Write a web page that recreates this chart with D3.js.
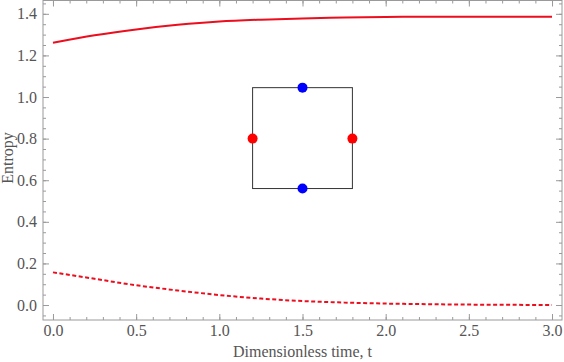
<!DOCTYPE html>
<html>
<head>
<meta charset="utf-8">
<script src="https://cdn.jsdelivr.net/npm/d3@7"></script>
<style>
  body { margin: 0; background: #fff; }
</style>
</head>
<body>
<script>
// time values and the two entropy curves
var times = [0, 0.25, 0.5, 0.75, 1.0, 1.25, 1.5, 1.75, 2.0, 2.25, 2.5, 2.75, 3.0];
var entropySolid = [1.261, 1.297, 1.325, 1.347, 1.363, 1.372, 1.378, 1.382, 1.385, 1.386, 1.386, 1.386, 1.386];
var entropyDashed = [0.157, 0.126, 0.095, 0.070, 0.048, 0.031, 0.019, 0.012, 0.007, 0.004, 0.002, 0.001, 0.000];

// inset square (data coords) and its dots
var squareX = [1.2, 1.8];
var squareY = [0.56, 1.045];
var blueDots = [[1.5, 1.045], [1.5, 0.56]];
var redDots = [[1.2, 0.80], [1.8, 0.80]];

// ticks
var xTicks = [0, 0.5, 1.0, 1.5, 2.0, 2.5, 3.0];
var yTicks = [0, 0.2, 0.4, 0.6, 0.8, 1.0, 1.2, 1.4];

var width = 564;
var height = 362;
var plotLeft = 43, plotRight = 562, plotTop = 0.5, plotBottom = 320;
var serif = "'Liberation Serif', 'Times New Roman', 'DejaVu Serif', serif";

var svg = d3.select("body")
  .append("svg")
  .attr("width", width)
  .attr("height", height);

var x = d3.scaleLinear().domain([-0.06, 3.06]).range([plotLeft, plotRight]);
var y = d3.scaleLinear().domain([-0.072, 1.464]).range([plotBottom, plotTop]);

var frameColor = "#9a9a9a";
var labelColor = "#555";

// minor ticks
var xMinor = d3.range(0, 31).map(function (i) { return i / 10; });
var yMinor = d3.range(-1, 30).map(function (i) { return i / 20; });

function styleAxis(g) {
  g.attr("font-family", serif).attr("font-size", 16);
  g.select(".domain").remove();
  g.selectAll("line").attr("stroke", frameColor);
  g.selectAll("text").attr("fill", labelColor);
}

// bottom
svg.append("g").attr("transform", "translate(0," + plotBottom + ")")
  .call(d3.axisBottom(x).tickValues(xMinor).tickSize(-3).tickFormat(""))
  .call(styleAxis);
svg.append("g").attr("transform", "translate(0," + plotBottom + ")")
  .call(d3.axisBottom(x).tickValues(xTicks).tickSize(-6).tickPadding(5).tickFormat(d3.format(".1f")))
  .call(styleAxis);
// top
svg.append("g").attr("transform", "translate(0," + plotTop + ")")
  .call(d3.axisTop(x).tickValues(xMinor).tickSize(-3).tickFormat(""))
  .call(styleAxis);
svg.append("g").attr("transform", "translate(0," + plotTop + ")")
  .call(d3.axisTop(x).tickValues(xTicks).tickSize(-6).tickFormat(""))
  .call(styleAxis);
// left
svg.append("g").attr("transform", "translate(" + plotLeft + ",0)")
  .call(d3.axisLeft(y).tickValues(yMinor).tickSize(-3).tickFormat(""))
  .call(styleAxis);
svg.append("g").attr("transform", "translate(" + plotLeft + ",0)")
  .call(d3.axisLeft(y).tickValues(yTicks).tickSize(-6).tickPadding(6).tickFormat(d3.format(".1f")))
  .call(styleAxis);
// right
svg.append("g").attr("transform", "translate(" + plotRight + ",0)")
  .call(d3.axisRight(y).tickValues(yMinor).tickSize(-3).tickFormat(""))
  .call(styleAxis);
svg.append("g").attr("transform", "translate(" + plotRight + ",0)")
  .call(d3.axisRight(y).tickValues(yTicks).tickSize(-6).tickFormat(""))
  .call(styleAxis);

// frame
svg.append("rect")
  .attr("x", plotLeft)
  .attr("y", plotTop)
  .attr("width", plotRight - plotLeft)
  .attr("height", plotBottom - plotTop)
  .attr("fill", "none")
  .attr("stroke", frameColor)
  .attr("stroke-width", 1);

// curves
var line = d3.line()
  .x(function (d) { return x(d[0]); })
  .y(function (d) { return y(d[1]); })
  .curve(d3.curveMonotoneX);

svg.append("path")
  .datum(times.map(function (t, i) { return [t, entropySolid[i]]; }))
  .attr("d", line)
  .attr("fill", "none")
  .attr("stroke", "#ec0d1d")
  .attr("stroke-width", 2);

svg.append("path")
  .datum(times.map(function (t, i) { return [t, entropyDashed[i]]; }))
  .attr("d", line)
  .attr("fill", "none")
  .attr("stroke", "#ec0d1d")
  .attr("stroke-width", 2)
  .attr("stroke-dasharray", "4,2.5");

// inset square
svg.append("rect")
  .attr("x", x(squareX[0]))
  .attr("y", y(squareY[1]))
  .attr("width", x(squareX[1]) - x(squareX[0]))
  .attr("height", y(squareY[0]) - y(squareY[1]))
  .attr("fill", "none")
  .attr("stroke", "#333")
  .attr("stroke-width", 1);

svg.selectAll(".blue")
  .data(blueDots)
  .enter().append("circle")
  .attr("cx", function (d) { return x(d[0]); })
  .attr("cy", function (d) { return y(d[1]); })
  .attr("r", 5)
  .attr("fill", "#0000ff");

svg.selectAll(".red")
  .data(redDots)
  .enter().append("circle")
  .attr("cx", function (d) { return x(d[0]); })
  .attr("cy", function (d) { return y(d[1]); })
  .attr("r", 5)
  .attr("fill", "#ff0000");

// axis titles
svg.append("text")
  .attr("x", (plotLeft + plotRight) / 2)
  .attr("y", 357)
  .attr("text-anchor", "middle")
  .attr("fill", labelColor)
  .attr("font-family", serif)
  .attr("font-size", 16)
  .text("Dimensionless time, t");

svg.append("text")
  .attr("transform", "translate(13," + 158 + ") rotate(-90)")
  .attr("text-anchor", "middle")
  .attr("fill", labelColor)
  .attr("font-family", serif)
  .attr("font-size", 16)
  .text("Entropy");
</script>
</body>
</html>
